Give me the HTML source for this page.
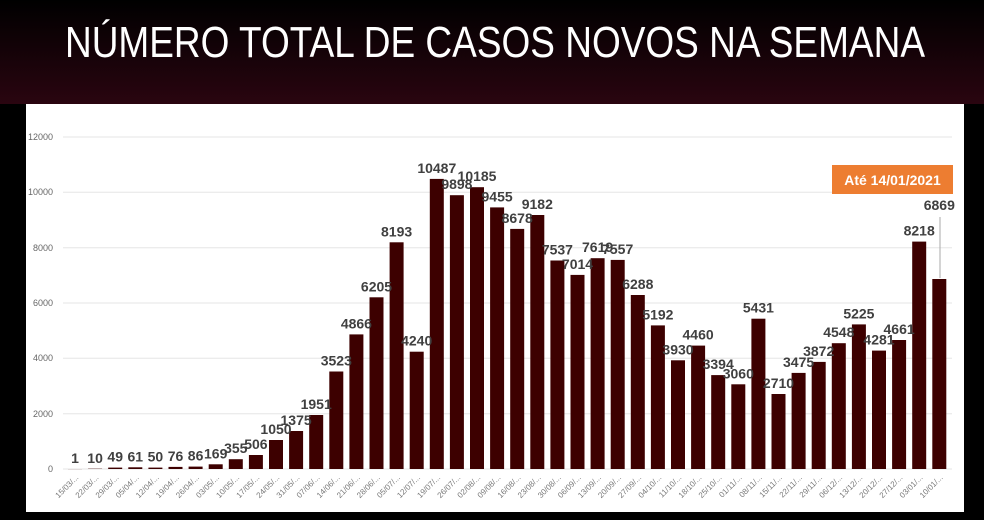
<!DOCTYPE html>
<html><head><meta charset="utf-8"><style>
html,body{margin:0;padding:0;background:#000;}
svg{display:block;}
.b{fill:#3d0000}
.v{fill:#404040;font-size:14px;font-weight:bold;text-anchor:middle}
.d{fill:#777;font-size:8px;text-anchor:end}
</style></head><body>
<svg width="984" height="520" viewBox="0 0 984 520" xmlns="http://www.w3.org/2000/svg" font-family="Liberation Sans, sans-serif">
<defs>
<linearGradient id="bg2" x1="0" y1="0" x2="0" y2="1">
<stop offset="0" stop-color="#000"/><stop offset="1" stop-color="#2a0510"/>
</linearGradient>
</defs>
<rect width="984" height="520" fill="#000"/>
<rect x="0" y="0" width="984" height="104" fill="url(#bg2)"/>
<text x="495" y="57" fill="#fff" font-size="44" text-anchor="middle" textLength="860" lengthAdjust="spacingAndGlyphs">NÚMERO TOTAL DE CASOS NOVOS NA SEMANA</text>
<rect x="26" y="104" width="938" height="408" fill="#fff"/>
<g stroke="#e6e6e6" stroke-width="1">
<line x1="63" x2="952" y1="137" y2="137"/><line x1="63" x2="952" y1="192.3" y2="192.3"/><line x1="63" x2="952" y1="247.7" y2="247.7"/><line x1="63" x2="952" y1="303" y2="303"/><line x1="63" x2="952" y1="358.3" y2="358.3"/><line x1="63" x2="952" y1="413.7" y2="413.7"/><line x1="63" x2="952" y1="469" y2="469"/>
</g>
<g fill="#666" font-size="9" text-anchor="end">
<text x="53" y="140">12000</text><text x="53" y="195">10000</text><text x="53" y="251">8000</text><text x="53" y="306">6000</text><text x="53" y="361">4000</text><text x="53" y="417">2000</text><text x="53" y="472">0</text>
</g>
<g>
<rect class="b" x="68" y="469" width="14" height="0.1"/>
<rect class="b" x="88.1" y="468.7" width="14" height="0.3"/>
<rect class="b" x="108.2" y="467.6" width="14" height="1.4"/>
<rect class="b" x="128.3" y="467.3" width="14" height="1.7"/>
<rect class="b" x="148.4" y="467.6" width="14" height="1.4"/>
<rect class="b" x="168.5" y="466.9" width="14" height="2.1"/>
<rect class="b" x="188.6" y="466.6" width="14" height="2.4"/>
<rect class="b" x="208.7" y="464.3" width="14" height="4.7"/>
<rect class="b" x="228.8" y="459.2" width="14" height="9.8"/>
<rect class="b" x="248.9" y="455" width="14" height="14"/>
<rect class="b" x="269" y="440" width="14" height="29"/>
<rect class="b" x="289.1" y="431" width="14" height="38"/>
<rect class="b" x="309.2" y="415" width="14" height="54"/>
<rect class="b" x="329.3" y="371.5" width="14" height="97.5"/>
<rect class="b" x="349.4" y="334.4" width="14" height="134.6"/>
<rect class="b" x="369.5" y="297.3" width="14" height="171.7"/>
<rect class="b" x="389.6" y="242.3" width="14" height="226.7"/>
<rect class="b" x="409.7" y="351.7" width="14" height="117.3"/>
<rect class="b" x="429.8" y="178.9" width="14" height="290.1"/>
<rect class="b" x="449.9" y="195.2" width="14" height="273.8"/>
<rect class="b" x="470" y="187.2" width="14" height="281.8"/>
<rect class="b" x="490.1" y="207.4" width="14" height="261.6"/>
<rect class="b" x="510.2" y="228.9" width="14" height="240.1"/>
<rect class="b" x="530.3" y="215" width="14" height="254"/>
<rect class="b" x="550.4" y="260.5" width="14" height="208.5"/>
<rect class="b" x="570.5" y="274.9" width="14" height="194.1"/>
<rect class="b" x="590.6" y="258.2" width="14" height="210.8"/>
<rect class="b" x="610.7" y="259.9" width="14" height="209.1"/>
<rect class="b" x="630.8" y="295" width="14" height="174"/>
<rect class="b" x="650.9" y="325.4" width="14" height="143.6"/>
<rect class="b" x="671" y="360.3" width="14" height="108.7"/>
<rect class="b" x="691.1" y="345.6" width="14" height="123.4"/>
<rect class="b" x="711.2" y="375.1" width="14" height="93.9"/>
<rect class="b" x="731.3" y="384.3" width="14" height="84.7"/>
<rect class="b" x="751.4" y="318.7" width="14" height="150.3"/>
<rect class="b" x="771.5" y="394" width="14" height="75"/>
<rect class="b" x="791.6" y="372.9" width="14" height="96.1"/>
<rect class="b" x="811.7" y="361.9" width="14" height="107.1"/>
<rect class="b" x="831.8" y="343.2" width="14" height="125.8"/>
<rect class="b" x="851.9" y="324.4" width="14" height="144.6"/>
<rect class="b" x="872" y="350.6" width="14" height="118.4"/>
<rect class="b" x="892.1" y="340" width="14" height="129"/>
<rect class="b" x="912.2" y="241.6" width="14" height="227.4"/>
<rect class="b" x="932.3" y="279" width="14" height="190"/>
</g>
<g>
<text class="v" x="75" y="463">1</text>
<text class="v" x="95.1" y="463">10</text>
<text class="v" x="115.2" y="461.6">49</text>
<text class="v" x="135.3" y="461.3">61</text>
<text class="v" x="155.4" y="461.6">50</text>
<text class="v" x="175.5" y="460.9">76</text>
<text class="v" x="195.6" y="460.6">86</text>
<text class="v" x="215.7" y="458.3">169</text>
<text class="v" x="235.8" y="453.2">355</text>
<text class="v" x="255.9" y="449">506</text>
<text class="v" x="276" y="434">1050</text>
<text class="v" x="296.1" y="425">1375</text>
<text class="v" x="316.2" y="409">1951</text>
<text class="v" x="336.3" y="365.5">3523</text>
<text class="v" x="356.4" y="328.4">4866</text>
<text class="v" x="376.5" y="291.3">6205</text>
<text class="v" x="396.6" y="236.3">8193</text>
<text class="v" x="416.7" y="345.7">4240</text>
<text class="v" x="436.8" y="172.9">10487</text>
<text class="v" x="456.9" y="189.2">9898</text>
<text class="v" x="477" y="181.2">10185</text>
<text class="v" x="497.1" y="201.4">9455</text>
<text class="v" x="517.2" y="222.9">8678</text>
<text class="v" x="537.3" y="209">9182</text>
<text class="v" x="557.4" y="254.5">7537</text>
<text class="v" x="577.5" y="268.9">7014</text>
<text class="v" x="597.6" y="252.2">7619</text>
<text class="v" x="617.7" y="253.9">7557</text>
<text class="v" x="637.8" y="289">6288</text>
<text class="v" x="657.9" y="319.4">5192</text>
<text class="v" x="678" y="354.3">3930</text>
<text class="v" x="698.1" y="339.6">4460</text>
<text class="v" x="718.2" y="369.1">3394</text>
<text class="v" x="738.3" y="378.3">3060</text>
<text class="v" x="758.4" y="312.7">5431</text>
<text class="v" x="778.5" y="388">2710</text>
<text class="v" x="798.6" y="366.9">3475</text>
<text class="v" x="818.7" y="355.9">3872</text>
<text class="v" x="838.8" y="337.2">4548</text>
<text class="v" x="858.9" y="318.4">5225</text>
<text class="v" x="879" y="344.6">4281</text>
<text class="v" x="899.1" y="334">4661</text>
<text class="v" x="919.2" y="235.6">8218</text>
<text class="v" x="939.3" y="210">6869</text>
</g>
<g>
<text class="d" transform="translate(79,478) rotate(-45)">15/03/...</text>
<text class="d" transform="translate(99.1,478) rotate(-45)">22/03/...</text>
<text class="d" transform="translate(119.2,478) rotate(-45)">29/03/...</text>
<text class="d" transform="translate(139.3,478) rotate(-45)">05/04/...</text>
<text class="d" transform="translate(159.4,478) rotate(-45)">12/04/...</text>
<text class="d" transform="translate(179.5,478) rotate(-45)">19/04/...</text>
<text class="d" transform="translate(199.6,478) rotate(-45)">26/04/...</text>
<text class="d" transform="translate(219.7,478) rotate(-45)">03/05/...</text>
<text class="d" transform="translate(239.8,478) rotate(-45)">10/05/...</text>
<text class="d" transform="translate(259.9,478) rotate(-45)">17/05/...</text>
<text class="d" transform="translate(280,478) rotate(-45)">24/05/...</text>
<text class="d" transform="translate(300.1,478) rotate(-45)">31/05/...</text>
<text class="d" transform="translate(320.2,478) rotate(-45)">07/06/...</text>
<text class="d" transform="translate(340.3,478) rotate(-45)">14/06/...</text>
<text class="d" transform="translate(360.4,478) rotate(-45)">21/06/...</text>
<text class="d" transform="translate(380.5,478) rotate(-45)">28/06/...</text>
<text class="d" transform="translate(400.6,478) rotate(-45)">05/07/...</text>
<text class="d" transform="translate(420.7,478) rotate(-45)">12/07/...</text>
<text class="d" transform="translate(440.8,478) rotate(-45)">19/07/...</text>
<text class="d" transform="translate(460.9,478) rotate(-45)">26/07/...</text>
<text class="d" transform="translate(481,478) rotate(-45)">02/08/...</text>
<text class="d" transform="translate(501.1,478) rotate(-45)">09/08/...</text>
<text class="d" transform="translate(521.2,478) rotate(-45)">16/08/...</text>
<text class="d" transform="translate(541.3,478) rotate(-45)">23/08/...</text>
<text class="d" transform="translate(561.4,478) rotate(-45)">30/08/...</text>
<text class="d" transform="translate(581.5,478) rotate(-45)">06/09/...</text>
<text class="d" transform="translate(601.6,478) rotate(-45)">13/09/...</text>
<text class="d" transform="translate(621.7,478) rotate(-45)">20/09/...</text>
<text class="d" transform="translate(641.8,478) rotate(-45)">27/09/...</text>
<text class="d" transform="translate(661.9,478) rotate(-45)">04/10/...</text>
<text class="d" transform="translate(682,478) rotate(-45)">11/10/...</text>
<text class="d" transform="translate(702.1,478) rotate(-45)">18/10/...</text>
<text class="d" transform="translate(722.2,478) rotate(-45)">25/10/...</text>
<text class="d" transform="translate(742.3,478) rotate(-45)">01/11/...</text>
<text class="d" transform="translate(762.4,478) rotate(-45)">08/11/...</text>
<text class="d" transform="translate(782.5,478) rotate(-45)">15/11/...</text>
<text class="d" transform="translate(802.6,478) rotate(-45)">22/11/...</text>
<text class="d" transform="translate(822.7,478) rotate(-45)">29/11/...</text>
<text class="d" transform="translate(842.8,478) rotate(-45)">06/12/...</text>
<text class="d" transform="translate(862.9,478) rotate(-45)">13/12/...</text>
<text class="d" transform="translate(883,478) rotate(-45)">20/12/...</text>
<text class="d" transform="translate(903.1,478) rotate(-45)">27/12/...</text>
<text class="d" transform="translate(923.2,478) rotate(-45)">03/01/...</text>
<text class="d" transform="translate(943.3,478) rotate(-45)">10/01/...</text>
</g>
<rect x="832" y="165" width="121" height="29" fill="#ED7D31"/>
<text x="892.5" y="185" fill="#fff" font-size="14" font-weight="bold" text-anchor="middle">Até 14/01/2021</text>
<line x1="940" y1="217" x2="940" y2="278" stroke="#aaa" stroke-width="1"/>
</svg>
</body></html>
